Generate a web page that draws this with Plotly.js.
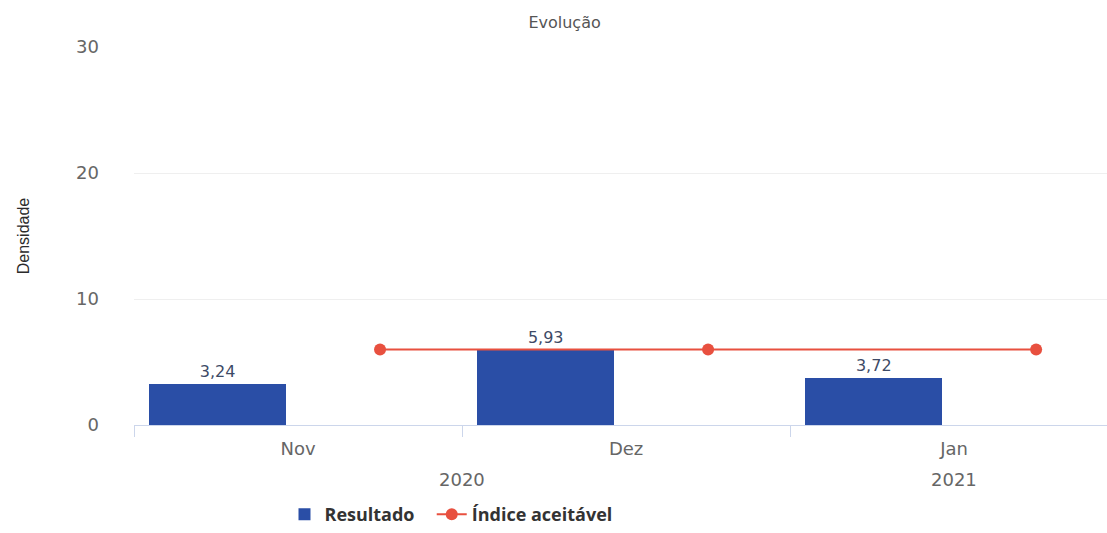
<!DOCTYPE html>
<html>
<head>
<meta charset="utf-8">
<script src="https://cdn.plot.ly/plotly-3.0.1.min.js"></script>
<style>html,body{margin:0;padding:0;background:#fff;}#chart{width:1107px;height:533px;}</style>
</head>
<body>
<div id="chart"></div>
<script>
// Data
const categories = ["Nov", "Dez", "Jan"];
const years = ["2020", "2020", "2021"];
const resultado = [3.24, 5.93, 3.72];
const indiceAceitavel = [6, 6, 6];
const yTicks = [0, 10, 20, 30];

const idx = categories.map((c, i) => i);
const barX = idx.map(i => i - 0.245);
const lineX = idx.map(i => i + 0.25);

// year group centres
const yearGroups = [];
years.forEach((y, i) => {
  const g = yearGroups.find(o => o.year === y);
  if (g) g.idx.push(i); else yearGroups.push({year: y, idx: [i]});
});
const yearAnn = yearGroups.map(g => ({
  x: (g.idx[0] + g.idx[g.idx.length - 1]) / 2,
  xref: 'x', yref: 'paper', y: -0.145, yanchor: 'middle',
  text: g.year, showarrow: false,
  font: {family: 'DejaVu Sans', size: 18, color: '#666666'}
}));

const traces = [
  {
    type: 'bar', name: 'Resultado', legend: 'legend',
    x: barX, y: resultado, width: 0.418,
    marker: {color: '#2a4ea6'},
    text: resultado.map(v => v.toFixed(2).replace('.', ',')),
    textposition: 'outside', cliponaxis: false,
    textfont: {family: 'DejaVu Sans', size: 16, color: '#3d4a66'},
    hoverinfo: 'y'
  },
  {
    type: 'scatter', mode: 'lines+markers', name: 'Índice aceitável', legend: 'legend2',
    x: lineX, y: indiceAceitavel,
    line: {color: '#e8503f', width: 2},
    marker: {color: '#e8503f', size: 12, symbol: 'circle'},
    cliponaxis: false
  }
];

const legendBase = {
  orientation: 'h', xref: 'container', yref: 'container',
  xanchor: 'left', y: 0, yanchor: 'bottom',
  font: {family: 'Open Sans', size: 18, color: '#333333', weight: 'bold'},
  itemwidth: 30
};

const layout = {
  width: 1107, height: 533,
  margin: {l: 134, r: 0, t: 47, b: 108},
  paper_bgcolor: '#ffffff', plot_bgcolor: '#ffffff',
  showlegend: true,
  title: {
    text: 'Evolução', xref: 'container', x: 0.51, yref: 'container', y: 0.958,
    xanchor: 'center', yanchor: 'middle',
    font: {family: 'DejaVu Sans', size: 16, color: '#555555'}
  },
  xaxis: {
    range: [-0.5, 2.466], automargin: false, fixedrange: true,
    tickmode: 'array', tickvals: idx, ticktext: categories,
    ticks: '', showgrid: false, zeroline: false,
    showline: true, linecolor: '#ccd6eb', linewidth: 1,
    ticklabelstandoff: 7,
    tickfont: {family: 'DejaVu Sans', size: 18, color: '#666666'},
    minor: {tickmode: 'array', tickvals: idx.map(i => i - 0.5), ticks: 'outside', ticklen: 11, tickcolor: '#ccd6eb', tickwidth: 1, showgrid: false}
  },
  yaxis: {
    range: [0, 30], automargin: false, fixedrange: true,
    tickmode: 'array', tickvals: yTicks,
    showgrid: true, gridcolor: '#efefef', gridwidth: 1,
    zeroline: false, showline: false, ticks: '',
    ticklabelstandoff: 34,
    tickfont: {family: 'DejaVu Sans', size: 18, color: '#666666'},
    title: {text: 'Densidade', standoff: 42, font: {family: 'Liberation Sans', size: 16, color: '#2b2b2b'}}
  },
  legend: Object.assign({}, legendBase, {x: 0.257}),
  legend2: Object.assign({}, legendBase, {x: 0.39}),
  annotations: yearAnn,
  bargap: 0
};

Plotly.newPlot('chart', traces, layout, {displayModeBar: false, staticPlot: true});
</script>
</body>
</html>
